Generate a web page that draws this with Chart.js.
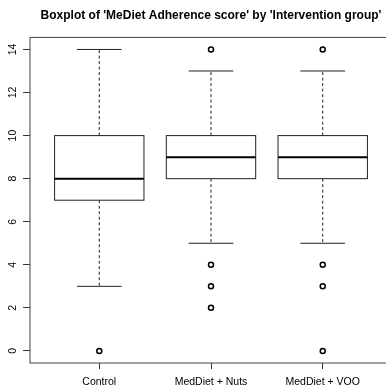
<!DOCTYPE html>
<html>
<head>
<meta charset="utf-8">
<script src="https://cdn.jsdelivr.net/npm/chart.js@4.4.1/dist/chart.umd.min.js"></script>
<style>
  html, body { margin: 0; padding: 0; background: #fff; overflow: hidden; }
  #wrap { width: 422px; height: 387px; }
</style>
</head>
<body>
<div id="wrap"><canvas id="boxChart" width="422" height="387"></canvas></div>
<script>
const groups = ["Control", "MedDiet + Nuts", "MedDiet + VOO"];
const whiskerLow = [3, 5, 5];
const quartile1 = [7, 8, 8];
const medians = [8, 9, 9];
const quartile3 = [10, 10, 10];
const whiskerHigh = [14, 13, 13];
const outliers = [[0], [14, 4, 3, 2], [14, 4, 3, 0]];
const yTicks = [0, 2, 4, 6, 8, 10, 12, 14];

const FONT = "'Liberation Sans', Arial, Helvetica, sans-serif";
const BOX_WIDTH = 0.8;
const CAP_WIDTH = 0.4;

// boxes, medians and whiskers, placed with the chart's own scales
const boxPlugin = {
  id: "boxes",
  beforeDatasetsDraw(chart) {
    const { ctx, chartArea } = chart;
    const x = chart.scales.x;
    const y = chart.scales.y;
    ctx.save();
    ctx.strokeStyle = "#444";
    ctx.lineWidth = 1;
    ctx.strokeRect(chartArea.left, chartArea.top, chartArea.right - chartArea.left, chartArea.bottom - chartArea.top);

    groups.forEach((name, i) => {
      const pos = i + 1;
      const cx = x.getPixelForValue(pos);
      const left = x.getPixelForValue(pos - BOX_WIDTH / 2);
      const right = x.getPixelForValue(pos + BOX_WIDTH / 2);
      const capL = x.getPixelForValue(pos - CAP_WIDTH / 2);
      const capR = x.getPixelForValue(pos + CAP_WIDTH / 2);
      const yLo = y.getPixelForValue(whiskerLow[i]);
      const yQ1 = y.getPixelForValue(quartile1[i]);
      const yMed = y.getPixelForValue(medians[i]);
      const yQ3 = y.getPixelForValue(quartile3[i]);
      const yHi = y.getPixelForValue(whiskerHigh[i]);

      ctx.strokeStyle = "#222";
      ctx.lineWidth = 1;
      ctx.setLineDash([3, 2.5]);
      ctx.beginPath();
      ctx.moveTo(cx, yQ3);
      ctx.lineTo(cx, yHi);
      ctx.moveTo(cx, yQ1);
      ctx.lineTo(cx, yLo);
      ctx.stroke();

      ctx.setLineDash([]);
      ctx.beginPath();
      ctx.moveTo(capL, yHi);
      ctx.lineTo(capR, yHi);
      ctx.moveTo(capL, yLo);
      ctx.lineTo(capR, yLo);
      ctx.stroke();

      ctx.strokeRect(left, yQ3, right - left, yQ1 - yQ3);

      ctx.strokeStyle = "#000";
      ctx.lineWidth = 2;
      ctx.beginPath();
      ctx.moveTo(left, yMed);
      ctx.lineTo(right, yMed);
      ctx.stroke();
    });
    ctx.restore();
  },
};

const outlierPoints = outliers.flatMap((vals, i) => vals.map((v) => ({ x: i + 1, y: v })));

new Chart(document.getElementById("boxChart"), {
  type: "scatter",
  data: {
    datasets: [
      {
        label: "Outliers",
        data: outlierPoints,
        pointRadius: 2.5,
        pointBorderWidth: 1.5,
        pointBackgroundColor: "#fff",
        pointBorderColor: "#000",
      },
    ],
  },
  options: {
    responsive: false,
    animation: false,
    layout: { padding: 0 },
    plugins: {
      legend: { display: false },
      tooltip: { enabled: false },
      title: {
        display: true,
        text: "Boxplot of 'MeDiet Adherence score' by 'Intervention group'",
        color: "#000",
        font: { family: FONT, size: 12, weight: "bold" },
        padding: { top: 8, bottom: 15 },
      },
    },
    scales: {
      x: {
        type: "linear",
        position: "bottom",
        min: 0.38,
        max: 3.62,
        afterBuildTicks: (s) => { s.ticks = groups.map((g, i) => ({ value: i + 1 })); },
        afterFit: (s) => { s.height = 24; },
        ticks: {
          autoSkip: false,
          maxRotation: 0,
          padding: 7,
          color: "#000",
          font: { family: FONT, size: 10.5 },
          callback: (v) => groups[Math.round(v) - 1],
        },
        grid: { drawOnChartArea: false, tickLength: 6, color: "#333" },
        border: { display: false },
      },
      y: {
        type: "linear",
        position: "left",
        min: -0.56,
        max: 14.56,
        afterBuildTicks: (s) => { s.ticks = yTicks.map((v) => ({ value: v })); },
        afterFit: (s) => { s.width = 30; },
        ticks: {
          minRotation: 90,
          maxRotation: 90,
          crossAlign: "center",
          padding: 4,
          color: "#000",
          font: { family: FONT, size: 10.5 },
        },
        grid: { drawOnChartArea: false, tickLength: 7, color: "#333" },
        border: { display: false },
      },
      yRight: {
        type: "linear",
        position: "right",
        afterFit: (s) => { s.width = 30; },
        ticks: { display: false },
        grid: { display: false },
        border: { display: false },
      },
    },
  },
  plugins: [boxPlugin],
});
</script>
</body>
</html>
